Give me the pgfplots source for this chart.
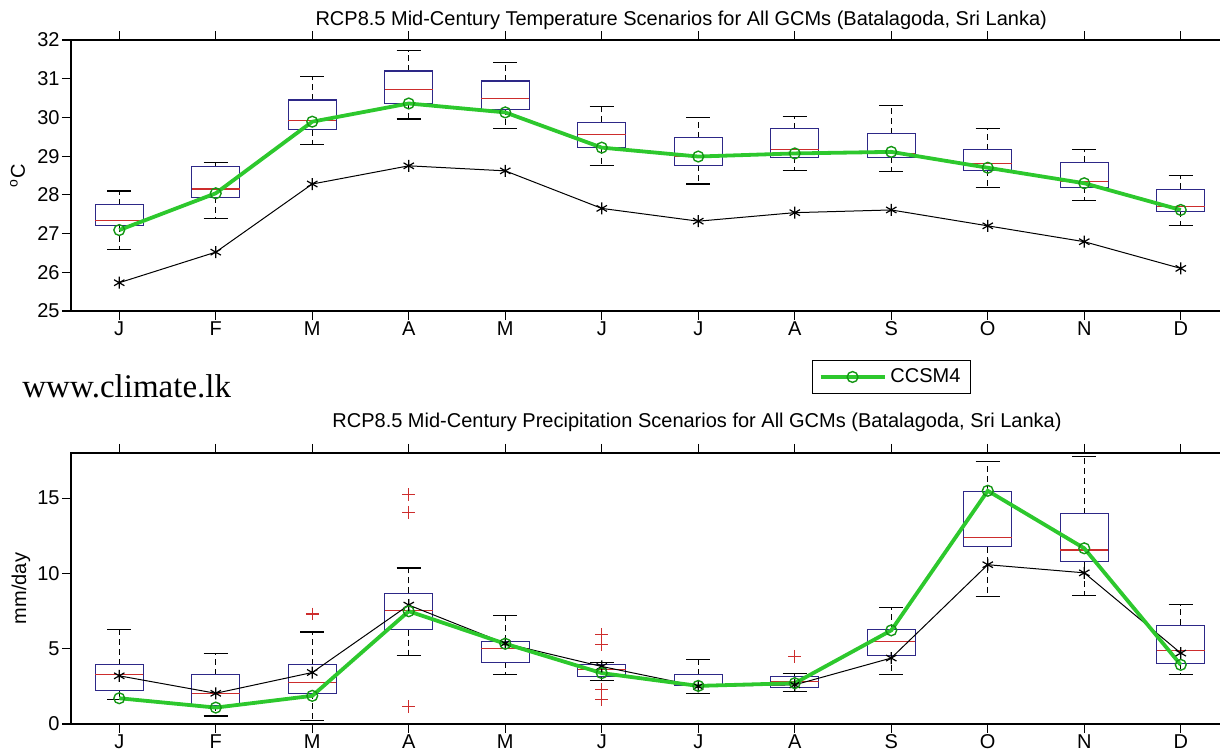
\documentclass[border=0pt]{standalone}
\usepackage{pgfplots}
\pgfplotsset{compat=1.18}
\usepackage{pgfplotstable}
\usepgfplotslibrary{statistics}
\usepackage{fontspec}
\setmainfont{Liberation Sans}
\newfontfamily\webfont{Liberation Serif}

\definecolor{boxblue}{RGB}{45,40,135}
\definecolor{medred}{RGB}{205,45,45}
\definecolor{ccgreen}{RGB}{45,200,45}
\definecolor{ccgreendk}{RGB}{20,150,20}
\definecolor{ccgreenlt}{RGB}{160,235,160}

% month, observed (black stars), CCSM4 (green)
\pgfplotstableread{
x obs ccsm
1  25.73 27.09
2  26.52 28.04
3  28.28 29.89
4  28.75 30.36
5  28.62 30.13
6  27.65 29.22
7  27.32 28.99
8  27.54 29.07
9  27.61 29.11
10 27.20 28.70
11 26.79 28.30
12 26.10 27.61
}\temptab

\pgfplotstableread{
x obs ccsm
1  3.20 1.71
2  2.04 1.09
3  3.42 1.87
4  7.90 7.49
5  5.35 5.33
6  3.82 3.38
7  2.50 2.53
8  2.60 2.71
9  4.38 6.22
10 10.58 15.49
11 10.04 11.67
12 4.71 3.93
}\preciptab

\pgfplotsset{
  boxplot/draw/whisker/.code 2 args={
    \draw[/pgfplots/boxplot/every whisker/.try, dash pattern=on 3pt off 2pt]
      (boxplot cs:#1) -- (boxplot cs:#2);
    \draw[/pgfplots/boxplot/every whisker/.try]
      (boxplot whisker cs:#2,0) -- (boxplot whisker cs:#2,1);
  },
  bx/.style={forget plot, solid, line width=0.5pt,
    boxplot/draw direction=y,
    boxplot/box extend=0.5, boxplot/whisker extend=0.25,
    boxplot/every box/.style={draw=boxblue, line width=0.55pt},
    boxplot/every median/.style={draw=medred, line width=0.55pt},
    boxplot/every whisker/.style={draw=black, line width=0.55pt}},
  panel/.style={
    scale only axis, width=579pt, height=135.5pt,
    anchor=south west,
    xmin=0.5, xmax=12.5,
    xtick={1,...,12},
    xticklabels={J,F,M,A,M,J,J,A,S,O,N,D},
    tick align=outside, major tick length=4.5pt,
    tick style={black, line width=0.55pt},
    axis line style={line width=0.6pt},
    /pgf/number format/assume math mode=true,
    ticklabel style={font=\fontsize{10}{12}\selectfont},
    yticklabel style={inner xsep=1pt},
    xticklabel style={inner ysep=0.5pt},
    label style={font=\fontsize{10}{12}\selectfont},
    every axis title shift=0pt,
    title style={font=\fontsize{10}{12}\selectfont, anchor=center},
  },
  obsline/.style={forget plot, black, line width=0.5pt, mark=asterisk,
    mark size=3pt, mark options={solid, line width=0.6pt}},
  ccline/.style={ccgreen, line width=1.9pt, mark=o, mark size=2.7pt,
    mark options={solid, draw=ccgreendk, fill=ccgreenlt, line width=0.7pt}},
}

\newcommand{\bx}[6]{\addplot[bx, boxplot prepared={draw position=#1,
  lower whisker=#2, lower quartile=#3, median=#4,
  upper quartile=#5, upper whisker=#6}] coordinates {};}

\begin{document}
\begin{tikzpicture}
\path[use as bounding box] (0,0) rectangle (610pt,376.5pt);
\clip (0,0) rectangle (610pt,376.5pt);

\node[anchor=base west, inner sep=0pt, font=\webfont\fontsize{16.5}{18}\selectfont]
  at (11pt,177.5pt) {www.climate.lk};

% temperature panel
\begin{axis}[panel, at={(35.5pt,221pt)},
  ymin=25, ymax=32, ytick={25,...,32},
  ylabel={\textsuperscript{o}C},
  ylabel style={at={(axis description cs:-0.0462,0.5)}, anchor=center},
  title={RCP8.5 Mid-Century Temperature Scenarios for All GCMs (Batalagoda, Sri Lanka)},
  title style={at={(axis description cs:0.527,1.074)}},
  legend style={at={(axis description cs:0.7086,-0.2435)}, anchor=center,
    draw=black, line width=0.6pt, font=\fontsize{10}{12}\selectfont,
    inner xsep=3pt, inner ysep=2pt},
  legend image code/.code={\draw[mark repeat=2, mark phase=2, #1]
    plot coordinates {(0pt,0pt) (16pt,0pt) (32pt,0pt)};},
]
\bx{1}{26.59}{27.20}{27.33}{27.74}{28.10}
\bx{2}{27.38}{27.94}{28.15}{28.73}{28.84}
\bx{3}{29.31}{29.68}{29.92}{30.45}{31.05}
\bx{4}{29.96}{30.36}{30.71}{31.20}{31.72}
\bx{5}{29.71}{30.21}{30.48}{30.94}{31.42}
\bx{6}{28.76}{29.22}{29.55}{29.87}{30.28}
\bx{7}{28.28}{28.76}{29.00}{29.47}{30.00}
\bx{8}{28.64}{28.97}{29.16}{29.71}{30.02}
\bx{9}{28.60}{28.97}{29.06}{29.58}{30.31}
\bx{10}{28.19}{28.64}{28.80}{29.17}{29.71}
\bx{11}{27.86}{28.19}{28.35}{28.84}{29.17}
\bx{12}{27.20}{27.58}{27.69}{28.14}{28.49}
\addplot[obsline] table[x=x, y=obs] {\temptab};
\addplot[ccline] table[x=x, y=ccsm] {\temptab};
\addlegendentry{CCSM4}
\end{axis}

% precipitation panel
\begin{axis}[panel, at={(35.5pt,14.5pt)},
  ymin=0, ymax=18, ytick={0,5,10,15},
  ylabel={mm/day},
  ylabel style={at={(axis description cs:-0.0432,0.5)}, anchor=center},
  title={RCP8.5 Mid-Century Precipitation Scenarios for All GCMs (Batalagoda, Sri Lanka)},
  title style={at={(axis description cs:0.5406,1.114)}},
]
\bx{1}{1.60}{2.22}{3.31}{3.93}{6.27}
\bx{2}{0.53}{1.25}{2.04}{3.27}{4.71}
\bx{3}{0.22}{2.04}{2.76}{3.93}{6.11}
\bx{4}{4.56}{6.27}{7.56}{8.67}{10.36}
\bx{5}{3.31}{4.11}{5.04}{5.49}{7.20}
\bx{6}{2.87}{3.16}{3.60}{3.93}{4.10}
\bx{7}{2.04}{2.53}{2.60}{3.27}{4.31}
\bx{8}{2.16}{2.44}{2.80}{3.16}{3.38}
\bx{9}{3.27}{4.56}{5.49}{6.27}{7.76}
\bx{10}{8.49}{11.76}{12.38}{15.44}{17.44}
\bx{11}{8.56}{10.82}{11.56}{13.98}{17.78}
\bx{12}{3.31}{4.04}{4.87}{6.56}{7.91}
% outliers
\addplot[forget plot, only marks, mark=+, mark size=3.2pt, medred,
  mark options={line width=0.6pt}] coordinates {
  (3,7.31) (4,15.22) (4,14.07) (4,1.16)
  (6,5.93) (6,5.27) (6,2.27) (6,1.65) (8,4.49)};
\addplot[obsline] table[x=x, y=obs] {\preciptab};
\addplot[ccline, forget plot] table[x=x, y=ccsm] {\preciptab};
\end{axis}
\end{tikzpicture}
\end{document}
